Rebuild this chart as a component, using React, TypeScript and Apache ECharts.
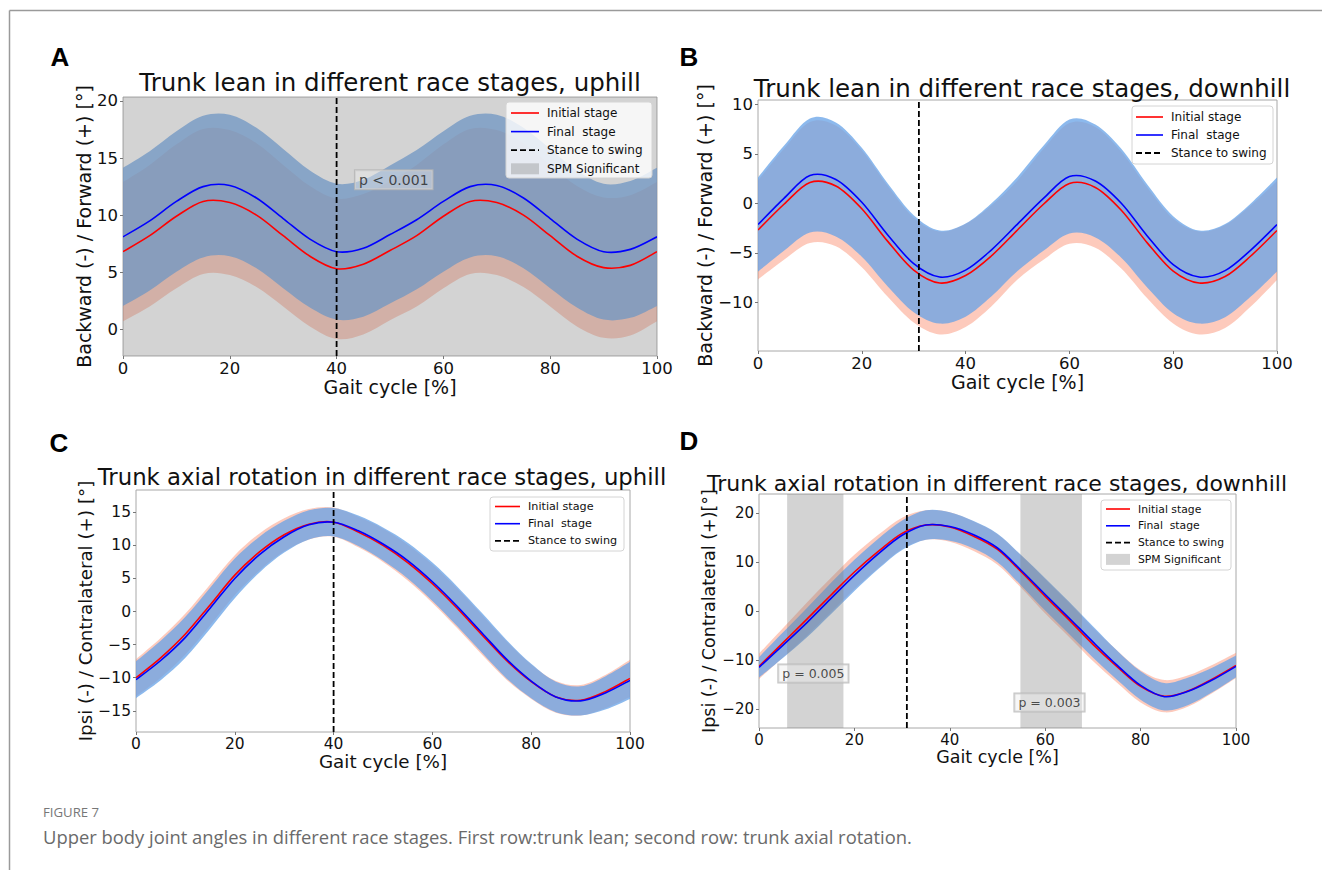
import React, { useEffect, useRef } from "react";
import * as echarts from "echarts";

// ---------- data ----------
const GAIT = [0, 5, 10, 15, 20, 25, 30, 35, 40, 45, 50, 55, 60, 65, 70, 75, 80, 85, 90, 95, 100];
const X_TICKS_STEP = 20;

// A: trunk lean, uphill
const A_INITIAL_MEAN = [6.8, 8.2, 9.9, 11.2, 11.1, 10.0, 8.2, 6.4, 5.3, 5.7, 6.9, 8.2, 9.9, 11.2, 11.1, 10.0, 8.2, 6.4, 5.4, 5.6, 6.8];
const A_INITIAL_SD = [6.1, 6.2, 6.3, 6.35, 6.35, 6.3, 6.2, 6.15, 6.15, 6.15, 6.1, 6.2, 6.3, 6.35, 6.35, 6.3, 6.2, 6.15, 6.15, 6.15, 6.1];
const A_FINAL_MEAN = [8.1, 9.5, 11.2, 12.5, 12.6, 11.5, 9.7, 7.9, 6.8, 7.1, 8.3, 9.6, 11.2, 12.5, 12.6, 11.5, 9.7, 7.9, 6.8, 7.0, 8.1];
const A_FINAL_SD = [6.05, 6.1, 6.15, 6.2, 6.2, 6.15, 6.1, 6.0, 5.95, 6.0, 6.05, 6.1, 6.15, 6.2, 6.2, 6.15, 6.1, 6.0, 5.95, 6.0, 6.05];
const A_Y_TICKS = [0, 5, 10, 15, 20];
const A_STANCE = 40;
const A_SPM = [[0, 100]];
const A_NOTES = [{ x: 50.7, y: 13.1, text: "p < 0.001" }];

// B: trunk lean, downhill
const B_INITIAL_MEAN = [-2.7, -0.1, 2.1, 1.75, -0.55, -3.85, -6.75, -8.05, -7.3, -5.3, -2.7, -0.1, 2.0, 1.6, -0.7, -4.0, -6.85, -8.05, -7.4, -5.3, -2.75];
const B_INITIAL_SD = [5.0, 5.6, 6.1, 6.1, 5.9, 5.6, 5.3, 5.2, 5.2, 5.1, 5.0, 5.6, 6.1, 6.1, 5.9, 5.6, 5.3, 5.2, 5.2, 5.1, 5.0];
const B_FINAL_MEAN = [-2.15, 0.5, 2.8, 2.4, 0.1, -3.2, -6.1, -7.45, -6.75, -4.7, -2.1, 0.5, 2.7, 2.25, 0.0, -3.3, -6.2, -7.45, -6.8, -4.7, -2.15];
const B_FINAL_SD = [4.75, 5.3, 5.75, 5.75, 5.5, 5.2, 4.9, 4.7, 4.7, 4.7, 4.75, 5.3, 5.75, 5.7, 5.5, 5.2, 4.9, 4.7, 4.7, 4.7, 4.75];
const B_Y_TICKS = [-10, -5, 0, 5, 10];
const B_STANCE = 31;

// C: trunk axial rotation, uphill
const C_INITIAL_MEAN = [-10.0, -7.0, -3.4, 1.0, 5.5, 9.0, 11.6, 13.2, 13.5, 12.0, 10.0, 7.4, 4.2, 0.5, -3.5, -7.4, -10.6, -12.9, -13.4, -12.1, -10.1];
const C_INITIAL_SD = [2.8, 3.0, 3.1, 3.1, 3.0, 2.8, 2.5, 2.3, 2.2, 2.3, 2.5, 2.7, 2.9, 3.0, 3.0, 2.9, 2.6, 2.4, 2.3, 2.5, 2.8];
const C_FINAL_MEAN = [-10.3, -7.4, -3.9, 0.5, 5.0, 8.6, 11.3, 13.1, 13.5, 12.2, 10.2, 7.7, 4.5, 0.8, -3.2, -7.2, -10.5, -12.9, -13.5, -12.3, -10.4];
const C_FINAL_SD = [2.8, 3.0, 3.1, 3.1, 3.0, 2.7, 2.4, 2.2, 2.15, 2.3, 2.5, 2.7, 2.9, 3.0, 3.0, 2.9, 2.6, 2.3, 2.2, 2.5, 2.8];
const C_Y_TICKS = [-15, -10, -5, 0, 5, 10, 15];
const C_STANCE = 40;

// D: trunk axial rotation, downhill
const D_INITIAL_MEAN = [-11.3, -6.5, -1.7, 3.2, 8.0, 12.2, 15.9, 17.6, 17.2, 15.3, 12.6, 8.0, 3.0, -1.8, -6.8, -11.3, -15.4, -17.4, -16.3, -13.9, -11.1];
const D_INITIAL_SD = [2.6, 3.0, 3.4, 3.5, 3.5, 3.4, 3.2, 3.0, 3.0, 3.0, 3.1, 3.3, 3.5, 3.5, 3.4, 3.3, 3.3, 3.3, 3.2, 2.9, 2.6];
const D_FINAL_MEAN = [-11.5, -7.0, -2.4, 2.5, 7.3, 11.7, 15.5, 17.6, 17.3, 15.6, 12.9, 8.3, 3.4, -1.4, -6.3, -11.0, -15.2, -17.5, -16.4, -14.1, -11.3];
const D_FINAL_SD = [2.1, 2.6, 3.0, 3.2, 3.2, 3.1, 3.0, 3.0, 2.9, 2.8, 2.9, 3.1, 3.3, 3.3, 3.2, 3.0, 2.9, 2.8, 2.8, 2.5, 2.2];
const D_Y_TICKS = [-20, -10, 0, 10, 20];
const D_STANCE = 31;
const D_SPM = [[5.9, 17.7], [54.8, 67.7]];
const D_NOTES = [
  { x: 11.4, y: -12.75, text: "p = 0.005" },
  { x: 60.9, y: -18.7, text: "p = 0.003" },
];

const LEGEND_INITIAL = "Initial stage";
const LEGEND_FINAL = "Final  stage";
const LEGEND_STANCE = "Stance to swing";
const LEGEND_SPM = "SPM Significant";

// ---------- styles ----------
const FONT = "DejaVu Sans";
const RED = "#ff0000";
const BLUE = "#0000ff";
const RED_BAND = "rgba(250,128,95,0.42)";
const BLUE_BAND = "rgba(102,162,231,0.75)";
const SPM_GRAY = "rgba(128,128,128,0.35)";

const minus = (v: number) => String(v).replace("-", "\u2212");

type Panel = {
  grid: { left: number; top: number; width: number; height: number };
  yMin: number;
  yMax: number;
  yTicks: number[];
  yName: string;
  yNameGap: number;
  tickFont: number;
  nameFont: number;
  xNameGap: number;
  init: number[];
  initSd: number[];
  fin: number[];
  finSd: number[];
  stance: number;
  spm: number[][];
  notes: { x: number; y: number; text: string }[];
  noteFont: number;
};

const PANELS: Panel[] = [
  {
    grid: { left: 123, top: 97, width: 534, height: 259 },
    yMin: -2.34, yMax: 20.35, yTicks: A_Y_TICKS,
    yName: "Backward (-) / Forward (+) [°]", yNameGap: 27,
    tickFont: 16.5, nameFont: 19, xNameGap: 20,
    init: A_INITIAL_MEAN, initSd: A_INITIAL_SD, fin: A_FINAL_MEAN, finSd: A_FINAL_SD,
    stance: A_STANCE, spm: A_SPM, notes: A_NOTES, noteFont: 14,
  },
  {
    grid: { left: 758, top: 100, width: 519, height: 251 },
    yMin: -14.92, yMax: 10.43, yTicks: B_Y_TICKS,
    yName: "Backward (-) / Forward (+) [°]", yNameGap: 42,
    tickFont: 16.5, nameFont: 19, xNameGap: 20,
    init: B_INITIAL_MEAN, initSd: B_INITIAL_SD, fin: B_FINAL_MEAN, finSd: B_FINAL_SD,
    stance: B_STANCE, spm: [], notes: [], noteFont: 14,
  },
  {
    grid: { left: 136, top: 490, width: 494, height: 242 },
    yMin: -18.2, yMax: 18.36, yTicks: C_Y_TICKS,
    yName: "Ipsi (-) / Contralateral (+) [°]", yNameGap: 38,
    tickFont: 15.5, nameFont: 18.3, xNameGap: 20,
    init: C_INITIAL_MEAN, initSd: C_INITIAL_SD, fin: C_FINAL_MEAN, finSd: C_FINAL_SD,
    stance: C_STANCE, spm: [], notes: [], noteFont: 13,
  },
  {
    grid: { left: 759, top: 494, width: 477, height: 234 },
    yMin: -23.9, yMax: 23.94, yTicks: D_Y_TICKS,
    yName: "Ipsi (-) / Contralateral (+)[°]", yNameGap: 39,
    tickFont: 15, nameFont: 17.5, xNameGap: 19,
    init: D_INITIAL_MEAN, initSd: D_INITIAL_SD, fin: D_FINAL_MEAN, finSd: D_FINAL_SD,
    stance: D_STANCE, spm: D_SPM, notes: D_NOTES, noteFont: 12.5,
  },
];

const TITLES = [
  { text: "Trunk lean in different race stages, uphill", x: 390, y: 82, size: 24.5 },
  { text: "Trunk lean in different race stages, downhill", x: 1022, y: 88, size: 24.5 },
  { text: "Trunk axial rotation in different race stages, uphill", x: 382, y: 477, size: 22.8 },
  { text: "Trunk axial rotation in different race stages, downhill", x: 997, y: 483, size: 22 },
];

const LETTERS = [
  { text: "A", x: 60, y: 57 },
  { text: "B", x: 689, y: 57 },
  { text: "C", x: 59, y: 443 },
  { text: "D", x: 689, y: 441 },
];

const LEGENDS = [
  { x: 506, y: 102, w: 146, h: 76, rowStart: 11, rowGap: 18.6, lineX: 511, lineLen: 28, textX: 547, font: 12, spm: true },
  { x: 1132, y: 106, w: 141, h: 58, rowStart: 11, rowGap: 18, lineX: 1136, lineLen: 27, textX: 1171, font: 12, spm: false },
  { x: 490, y: 497, w: 134, h: 54, rowStart: 9.5, rowGap: 17.2, lineX: 495, lineLen: 25, textX: 528, font: 11.2, spm: false },
  { x: 1101, y: 500, w: 130, h: 70, rowStart: 9, rowGap: 16.8, lineX: 1106, lineLen: 24, textX: 1138, font: 10.8, spm: true },
];

// Catmull-Rom style smooth path through pixel points
function smoothPath(pts: number[][], move: boolean): string {
  let d = (move ? "M" : "L") + pts[0][0].toFixed(2) + "," + pts[0][1].toFixed(2);
  for (let i = 0; i < pts.length - 1; i++) {
    const p0 = pts[Math.max(i - 1, 0)];
    const p1 = pts[i];
    const p2 = pts[i + 1];
    const p3 = pts[Math.min(i + 2, pts.length - 1)];
    const c1x = p1[0] + (p2[0] - p0[0]) / 6;
    const c1y = p1[1] + (p2[1] - p0[1]) / 6;
    const c2x = p2[0] - (p3[0] - p1[0]) / 6;
    const c2y = p2[1] - (p3[1] - p1[1]) / 6;
    d += ` C${c1x.toFixed(2)},${c1y.toFixed(2)} ${c2x.toFixed(2)},${c2y.toFixed(2)} ${p2[0].toFixed(2)},${p2[1].toFixed(2)}`;
  }
  return d;
}

function bandSeries(i: number, mean: number[], sd: number[], color: string, name: string) {
  return {
    type: "custom",
    name,
    xAxisIndex: i,
    yAxisIndex: i,
    silent: true,
    clip: true,
    z: 2,
    encode: { x: 0, y: [1, 2] },
    data: GAIT.map((x, j) => [x, +(mean[j] - sd[j]).toFixed(3), +(mean[j] + sd[j]).toFixed(3)]),
    renderItem: (params: any, api: any) => {
      if (params.dataIndex !== 0) return null;
      const up = GAIT.map((x, j) => api.coord([x, mean[j] + sd[j]]));
      const lo = GAIT.map((x, j) => api.coord([x, mean[j] - sd[j]])).reverse();
      const d = smoothPath(up, true) + " " + smoothPath(lo, false) + " Z";
      return { type: "path", shape: { pathData: d }, style: { fill: color, stroke: "none" } };
    },
  };
}

function meanSeries(i: number, mean: number[], color: string, name: string) {
  return {
    type: "custom",
    name,
    xAxisIndex: i,
    yAxisIndex: i,
    silent: true,
    clip: true,
    z: 4,
    encode: { x: 0, y: 1 },
    data: GAIT.map((x, j) => [x, mean[j]]),
    renderItem: (params: any, api: any) => {
      if (params.dataIndex !== 0) return null;
      const pts = GAIT.map((x, j) => api.coord([x, mean[j]]));
      return {
        type: "path",
        shape: { pathData: smoothPath(pts, true) },
        style: { fill: "none", stroke: color, lineWidth: 1.6 },
      };
    },
  };
}

function spmSeries(i: number, spans: number[][], yMin: number, yMax: number) {
  return {
    type: "custom",
    name: LEGEND_SPM,
    xAxisIndex: i,
    yAxisIndex: i,
    silent: true,
    clip: true,
    z: 3,
    encode: { x: [0, 1] },
    data: spans,
    renderItem: (params: any, api: any) => {
      const s = spans[params.dataIndex];
      const p0 = api.coord([s[0], yMax]);
      const p1 = api.coord([s[1], yMin]);
      return {
        type: "rect",
        shape: { x: p0[0], y: p0[1], width: p1[0] - p0[0], height: p1[1] - p0[1] },
        style: { fill: SPM_GRAY, stroke: "none" },
      };
    },
  };
}

function buildOption() {
  const grids: any[] = [];
  const xAxes: any[] = [];
  const yAxes: any[] = [];
  const series: any[] = [];

  PANELS.forEach((p, i) => {
    grids.push({ ...p.grid, show: true, borderColor: "#a8a8a8", borderWidth: 1, backgroundColor: "transparent" });
    xAxes.push({
      type: "value",
      gridIndex: i,
      min: 0,
      max: 100,
      interval: X_TICKS_STEP,
      position: "bottom",
      name: "Gait cycle [%]",
      nameLocation: "middle",
      nameGap: p.xNameGap,
      nameTextStyle: { fontFamily: FONT, fontSize: p.nameFont, color: "#111" },
      axisLine: { show: false, onZero: false },
      axisTick: { show: true, length: 3, lineStyle: { color: "#777" } },
      axisLabel: { fontFamily: FONT, fontSize: p.tickFont, color: "#111", margin: 4, formatter: minus },
      splitLine: { show: false },
    });
    yAxes.push({
      type: "value",
      gridIndex: i,
      min: p.yMin,
      max: p.yMax,
      position: "left",
      name: p.yName,
      nameLocation: "middle",
      nameGap: p.yNameGap,
      nameTextStyle: { fontFamily: FONT, fontSize: p.nameFont, color: "#111" },
      axisLine: { show: false, onZero: false },
      axisTick: { show: true, length: 3, lineStyle: { color: "#777" }, customValues: p.yTicks },
      axisLabel: { fontFamily: FONT, fontSize: p.tickFont, color: "#111", margin: 5, customValues: p.yTicks, formatter: minus },
      splitLine: { show: false },
    });

    series.push(bandSeries(i, p.init, p.initSd, RED_BAND, "Initial stage band"));
    series.push(bandSeries(i, p.fin, p.finSd, BLUE_BAND, "Final stage band"));
    if (p.spm.length) series.push(spmSeries(i, p.spm, p.yMin, p.yMax));
    series.push(meanSeries(i, p.init, RED, LEGEND_INITIAL));
    series.push(meanSeries(i, p.fin, BLUE, LEGEND_FINAL));
    series.push({
      type: "line",
      name: LEGEND_STANCE,
      xAxisIndex: i,
      yAxisIndex: i,
      data: [[p.stance, p.yMin], [p.stance, p.yMax]],
      symbol: "none",
      silent: true,
      z: 5,
      lineStyle: { color: "#000", type: [6, 3], width: 1.8 },
    });
    if (p.notes.length) {
      series.push({
        type: "scatter",
        name: "notes",
        xAxisIndex: i,
        yAxisIndex: i,
        silent: true,
        z: 6,
        symbolSize: 1,
        itemStyle: { color: "transparent" },
        data: p.notes.map((n) => ({
          value: [n.x, n.y],
          label: {
            show: true,
            position: "inside",
            formatter: n.text,
            fontFamily: FONT,
            fontSize: p.noteFont,
            color: "#222",
            backgroundColor: "rgba(236,236,236,0.55)",
            borderColor: "#b5b5b5",
            borderWidth: 1,
            padding: [3, 4, 2, 4],
          },
        })),
      });
    }
  });

  const graphics: any[] = [];
  graphics.push({ type: "line", silent: true, shape: { x1: 9.5, y1: 10.5, x2: 1322, y2: 10.5 }, style: { stroke: "#9a9a9a", lineWidth: 1.5 } });
  graphics.push({ type: "line", silent: true, shape: { x1: 9.5, y1: 10.5, x2: 9.5, y2: 870 }, style: { stroke: "#9a9a9a", lineWidth: 1.5 } });

  TITLES.forEach((t) =>
    graphics.push({
      type: "text", silent: true, x: t.x, y: t.y,
      style: { text: t.text, fontFamily: FONT, fontSize: t.size, fill: "#111", align: "center", verticalAlign: "middle" },
    })
  );
  LETTERS.forEach((l) =>
    graphics.push({
      type: "text", silent: true, x: l.x, y: l.y,
      style: { text: l.text, fontFamily: "Liberation Sans", fontWeight: "bold", fontSize: 26, fill: "#000", align: "center", verticalAlign: "middle" },
    })
  );

  LEGENDS.forEach((lg) => {
    graphics.push({
      type: "rect", silent: true,
      shape: { x: lg.x, y: lg.y, width: lg.w, height: lg.h, r: 3 },
      style: { fill: "rgba(255,255,255,0.8)", stroke: "#d4d4d4", lineWidth: 1 },
      z: 10,
    });
    const items = [
      { label: LEGEND_INITIAL, kind: "line", color: RED },
      { label: LEGEND_FINAL, kind: "line", color: BLUE },
      { label: LEGEND_STANCE, kind: "dash", color: "#000" },
    ];
    if (lg.spm) items.push({ label: LEGEND_SPM, kind: "patch", color: SPM_GRAY });
    items.forEach((it, k) => {
      const cy = lg.y + lg.rowStart + k * lg.rowGap;
      if (it.kind === "patch") {
        graphics.push({
          type: "rect", silent: true, z: 11,
          shape: { x: lg.lineX, y: cy - 5.5, width: lg.lineLen, height: 11 },
          style: { fill: it.color },
        });
      } else {
        graphics.push({
          type: "line", silent: true, z: 11,
          shape: { x1: lg.lineX, y1: cy, x2: lg.lineX + lg.lineLen, y2: cy },
          style: { stroke: it.color, lineWidth: it.kind === "dash" ? 1.8 : 1.6, lineDash: it.kind === "dash" ? [6, 3] : null },
        });
      }
      graphics.push({
        type: "text", silent: true, z: 11, x: lg.textX, y: cy,
        style: { text: it.label, fontFamily: FONT, fontSize: lg.font, fill: "#111", align: "left", verticalAlign: "middle" },
      });
    });
  });

  graphics.push({
    type: "text", silent: true, x: 43, y: 812,
    style: { text: "FIGURE 7", fontFamily: "Open Sans", fontSize: 13.2, fill: "#777", align: "left", verticalAlign: "middle" },
  });
  graphics.push({
    type: "text", silent: true, x: 43, y: 836,
    style: {
      text: "Upper body joint angles in different race stages. First row:trunk lean; second row: trunk axial rotation.",
      fontFamily: "Open Sans", fontSize: 18.4, fill: "#6a6a6a", align: "left", verticalAlign: "middle",
    },
  });

  return {
    animation: false,
    backgroundColor: "#ffffff",
    grid: grids,
    xAxis: xAxes,
    yAxis: yAxes,
    series,
    graphic: graphics,
  };
}

export default function App() {
  const ref = useRef<HTMLDivElement>(null);
  useEffect(() => {
    if (!ref.current) return;
    const chart = echarts.init(ref.current, undefined, { renderer: "svg" });
    chart.setOption(buildOption() as any);
    return () => chart.dispose();
  }, []);
  return (
    <div
      ref={ref}
      style={{ position: "fixed", left: 0, top: 0, width: 1322, height: 870, background: "#fff" }}
    />
  );
}
